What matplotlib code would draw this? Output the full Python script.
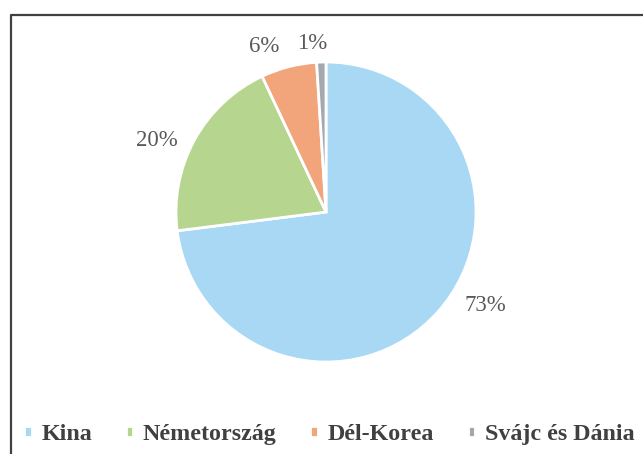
import numpy as np
import matplotlib.pyplot as plt
from matplotlib.lines import Line2D

labels = ['Kina', 'Németország', 'Dél-Korea', 'Svájc és Dánia']
values = [73, 20, 6, 1]
colors = ['#a8d8f4', '#b6d68f', '#f2a47a', '#a3a9ae']

# Excel's "best fit" label placement: angular shift (deg) and radial distance
label_shift = [11, 6, 6, 3]
label_dist = [1.23, 1.225, 1.175, 1.13]

plt.rcParams['font.family'] = ['Liberation Serif', 'DejaVu Serif']

fig = plt.figure(figsize=(6.43, 4.54), dpi=100)
fx, fy = 11 / 643, 1 - 15 / 454
fig.lines.append(Line2D([fx, fx, 1], [0, fy, fy], transform=fig.transFigure,
                        color='#404040', linewidth=1.6))

ax = fig.add_axes([0.2737, 0.2026, 0.4666, 0.6608])
wedges, texts = ax.pie(values, colors=colors, startangle=90, counterclock=False,
                       labels=[f'{v}%' for v in values],
                       wedgeprops=dict(edgecolor='white', linewidth=2),
                       textprops=dict(color='#595959', fontsize=16.5))
for w, t, s, d in zip(wedges, texts, label_shift, label_dist):
    mid = np.deg2rad((w.theta1 + w.theta2) / 2 + s)
    t.set_position((d * np.cos(mid), d * np.sin(mid)))
    t.set_horizontalalignment('center')
    t.set_verticalalignment('center')
ax.set_xlim(-1, 1)
ax.set_ylim(-1, 1)
ax.set_aspect('equal')

fig.legend(wedges, labels, loc='center', bbox_to_anchor=(0.512, 0.042), ncol=4,
           frameon=False, handlelength=0.32, handleheight=0.32, handletextpad=0.4,
           columnspacing=1.4, borderpad=0, prop=dict(weight='bold', size=17.3),
           labelcolor='#404040')

fig.savefig('out.png', dpi=100)
